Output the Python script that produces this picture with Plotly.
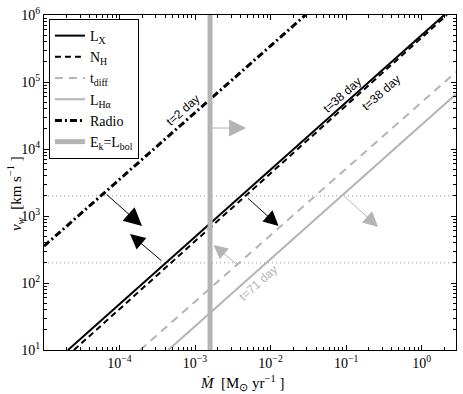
import numpy as np
import plotly.graph_objects as go

# line endpoints (Mdot in Msun/yr, v_w in km/s)
lx_mdot = [2.08e-5, 1.99]
lx_v = [10, 1e6]
nh_mdot = [2.49e-5, 2.16]
nh_v = [10, 1e6]
tdiff_mdot = [1.87e-4, 2.86]
tdiff_v = [10, 1.41e5]
lha_mdot = [4.43e-4, 2.86]
lha_v = [10, 6.6e4]
radio_mdot = [1.0e-5, 2.9e-2]
radio_v = [355, 1e6]
ek_mdot = [1.58e-3, 1.58e-3]
ek_v = [10, 1e6]
vw_limits = [200, 2000]
x_span = [1e-5, 3.0]

x_ticks = [1e-4, 1e-3, 1e-2, 1e-1, 1e0]
x_ticktext = ["10<sup>−4</sup>", "10<sup>−3</sup>", "10<sup>−2</sup>", "10<sup>−1</sup>", "10<sup>0</sup>"]
y_ticks = [1e1, 1e2, 1e3, 1e4, 1e5, 1e6]
y_ticktext = ["10<sup>1</sup>", "10<sup>2</sup>", "10<sup>3</sup>", "10<sup>4</sup>", "10<sup>5</sup>", "10<sup>6</sup>"]

# arrows: (tail log x, tail log y, tip log x, tip log y, colour, head size)
arrows = [
    (-4.192, 3.343, -3.702, 2.851, "black", 3.6),
    (-3.424, 2.313, -3.861, 2.731, "black", 3.0),
    (-2.318, 3.284, -1.894, 2.851, "black", 3.0),
    (-2.437, 2.269, -2.755, 2.567, "#b4b4b4", 2.8),
    (-1.040, 3.313, -0.576, 2.836, "#b4b4b4", 3.0),
    (-2.801, 4.313, -2.325, 4.313, "#b4b4b4", 3.4),
]
# line labels: (text, log x, log y, colour)
labels = [
    ("t=2 day", -3.158, 4.585, "black"),
    ("t=38 day", -1.052, 4.809, "black"),
    ("t=38 day", -0.540, 4.840, "black"),
    ("t=71 day", -2.166, 2.000, "#b4b4b4"),
]

gray = "#b4b4b4"
serif = "Liberation Serif"
fig = go.Figure()

for v in vw_limits:
    fig.add_trace(go.Scatter(x=x_span, y=[v, v], mode="lines", showlegend=False,
                             line=dict(color="#999999", width=1, dash="1px,3px")))

fig.add_trace(go.Scatter(x=lx_mdot, y=lx_v, mode="lines", name="L<sub>X</sub>",
                         line=dict(color="black", width=2)))
fig.add_trace(go.Scatter(x=nh_mdot, y=nh_v, mode="lines", name="N<sub>H</sub>",
                         line=dict(color="black", width=2, dash="6px,4px")))
fig.add_trace(go.Scatter(x=tdiff_mdot, y=tdiff_v, mode="lines", name="t<sub>diff</sub>",
                         line=dict(color=gray, width=2, dash="8px,6px")))
fig.add_trace(go.Scatter(x=lha_mdot, y=lha_v, mode="lines", name="L<sub>Hα</sub>",
                         line=dict(color=gray, width=2)))
fig.add_trace(go.Scatter(x=radio_mdot, y=radio_v, mode="lines", name="Radio",
                         line=dict(color="black", width=3, dash="7px,3px,2px,3px")))
fig.add_trace(go.Scatter(x=ek_mdot, y=ek_v, mode="lines", name="E<sub>k</sub>=L<sub>bol</sub>",
                         line=dict(color=gray, width=5)))

for tx, ty, hx, hy, c, s in arrows:
    fig.add_annotation(x=hx, y=hy, ax=tx, ay=ty, xref="x", yref="y", axref="x", ayref="y",
                       showarrow=True, arrowhead=2, arrowsize=s, arrowwidth=1,
                       arrowcolor=c, text="", standoff=0)

for t, lx, ly, c in labels:
    fig.add_annotation(x=lx, y=ly, xref="x", yref="y", text=t, showarrow=False,
                       textangle=-41.6, font=dict(family="Liberation Sans", size=12, color=c))

# axis titles
fig.add_annotation(x=0.483, y=-0.098, xref="paper", yref="paper", xanchor="center",
                   yanchor="middle", showarrow=False,
                   text="<i>Ṁ</i>  [M<sub>⊙</sub> yr<sup>−1</sup> ]",
                   font=dict(family=serif, size=15, color="black"))
fig.add_annotation(x=-0.07, y=0.466, xref="paper", yref="paper", xanchor="center",
                   yanchor="middle", showarrow=False,
                   textangle=-90, text="<i>v<sub>w</sub></i>  [km s<sup>−1</sup> ]",
                   font=dict(family=serif, size=15, color="black"))

minor_x = [m * 10.0 ** e for e in range(-5, 1) for m in range(2, 10) if m * 10.0 ** e <= 3]
minor_y = [m * 10.0 ** e for e in range(1, 6) for m in range(2, 10)]

axis_common = dict(type="log", showgrid=False, zeroline=False, showline=True, linecolor="black",
                   linewidth=1, mirror="allticks", ticks="inside", ticklen=5, tickcolor="black",
                   automargin=False,
                   tickfont=dict(family=serif, size=14, color="black"))

fig.update_xaxes(range=[-5, np.log10(2.85)], tickvals=x_ticks, ticktext=x_ticktext,
                 minor=dict(tickvals=minor_x, ticks="inside", ticklen=3, tickcolor="black"),
                 **axis_common)
fig.update_yaxes(range=[1, 6], tickvals=y_ticks, ticktext=y_ticktext,
                 minor=dict(tickvals=minor_y, ticks="inside", ticklen=3, tickcolor="black"),
                 **axis_common)

fig.update_layout(
    width=463, height=394,
    margin=dict(l=44, r=7, t=15, b=44),
    plot_bgcolor="white", paper_bgcolor="white",
    legend=dict(x=0.012, y=0.988, xanchor="left", yanchor="top", bgcolor="white",
                bordercolor="black", borderwidth=1, tracegroupgap=0, itemwidth=30,
                font=dict(family=serif, size=14, color="black")),
)

# drop the default 8px page margin so the figure sits at the window corner
fig.write_html("out.html", config={"displayModeBar": False},
               post_script="document.body.style.margin='0';")
